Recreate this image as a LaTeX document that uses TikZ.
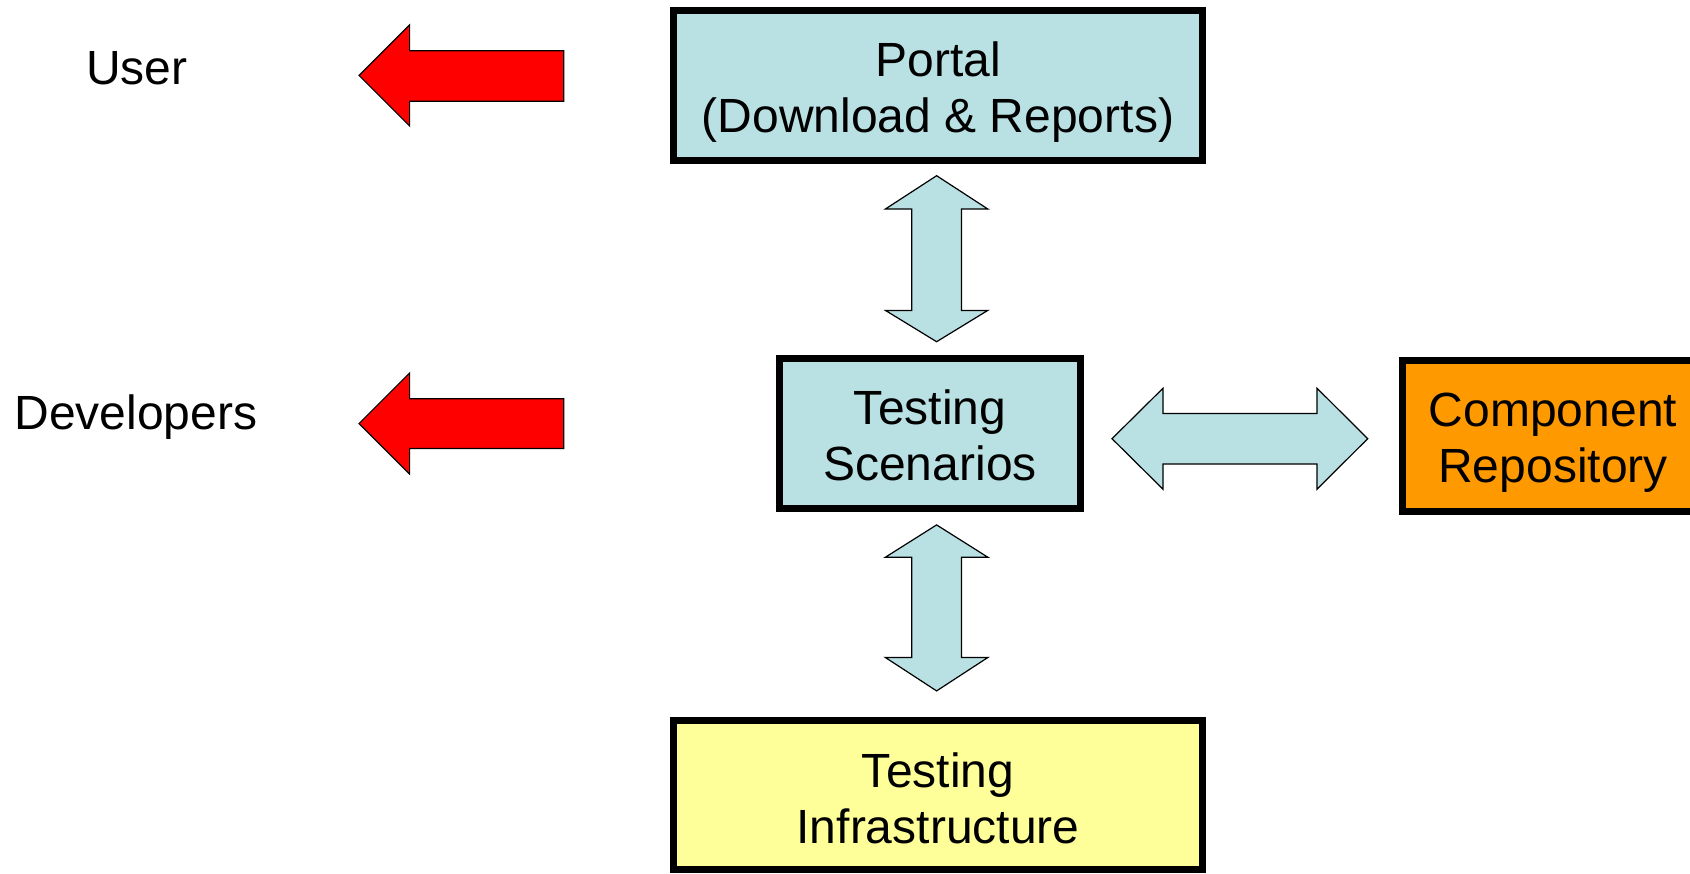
\documentclass[tikz,border=0pt]{standalone}
\usepackage{fontspec}
\setmainfont{Liberation Sans}
\definecolor{lblue}{RGB}{185,224,227}
\definecolor{orangebox}{RGB}{255,153,0}
\definecolor{yellowbox}{RGB}{255,255,153}
\definecolor{redarrow}{RGB}{255,0,0}
\begin{document}
\begin{tikzpicture}[x=0.5pt,y=-0.5pt,
  box/.style={draw=black, line width=3.5pt, inner sep=0pt},
  boxtext/.style={align=center, inner sep=0pt, font=\fontsize{24}{28}\selectfont},
  label/.style={font=\fontsize{24}{28}\selectfont, inner sep=0pt},
  blockarrow/.style={draw=black, line width=0.6pt, fill=lblue, line join=miter},
  redblock/.style={draw=black, line width=0.6pt, fill=redarrow, line join=miter}]
\useasboundingbox (0,0) rectangle (1690,873);
\clip (0,0) rectangle (1690,873);

% boxes
\node[box, fill=lblue, minimum width=264.5pt, minimum height=75.25pt] (portal) at (938,85.25) {};
\node[box, fill=lblue, minimum width=150.5pt, minimum height=75.25pt] (scen) at (930,433.25) {};
\node[box, fill=orangebox, minimum width=150.5pt, minimum height=75.75pt] (comp) at (1553,435.75) {};
\node[box, fill=yellowbox, minimum width=264.5pt, minimum height=74.75pt] (infra) at (938,794.75) {};

\node[boxtext] (portaltext) at ([yshift=-3.2pt]portal.center) {Portal\\(Download \& Reports)};
\node[boxtext] (scentext) at ([yshift=-1.1pt]scen.center) {Testing\\Scenarios};
\node[boxtext] (comptext) at ([yshift=-3.4pt]comp.center) {Component\\Repository};
\node[boxtext] (infratext) at ([yshift=-2pt]infra.center) {Testing\\Infrastructure};

% labels
\node[label] (user) at (137,68) {User};
\node[label] (dev) at (136,417) {Developers};

% red arrows
\draw[redblock] (359,75.4) -- (409.6,24.8) -- (409.6,50.7) -- (563.7,50.7) -- (563.7,101.3) -- (409.6,101.3) -- (409.6,126) -- cycle;
\draw[redblock] (359,423.6) -- (409.6,373) -- (409.6,398.8) -- (563.7,398.8) -- (563.7,448.4) -- (409.6,448.4) -- (409.6,474) -- cycle;

% vertical double arrows
\draw[blockarrow] (936.6,175.7) -- (987.8,209) -- (961.4,209) -- (961.4,310.4) -- (987.8,310.4) -- (936.6,341.7) -- (885.4,310.4) -- (911.8,310.4) -- (911.8,209) -- (885.4,209) -- cycle;
\draw[blockarrow] (936.6,524.9) -- (987.8,557.2) -- (961.4,557.2) -- (961.4,657.5) -- (987.8,657.5) -- (936.6,690.9) -- (885.4,657.5) -- (911.8,657.5) -- (911.8,557.2) -- (885.4,557.2) -- cycle;

% horizontal double arrow
\draw[blockarrow] (1112,438.7) -- (1163,388.2) -- (1163,413.4) -- (1317,413.4) -- (1317,388.2) -- (1367.7,438.7) -- (1317,489.2) -- (1317,464) -- (1163,464) -- (1163,489.2) -- cycle;
\end{tikzpicture}
\end{document}
